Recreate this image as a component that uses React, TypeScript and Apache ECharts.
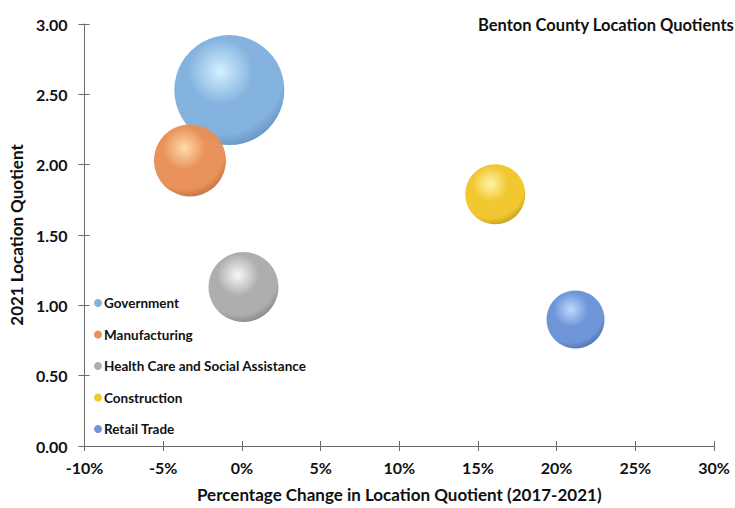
import React, { useEffect, useRef } from "react";
import * as echarts from "echarts";

const categories = [
  "Government",
  "Manufacturing",
  "Health Care and Social Assistance",
  "Construction",
  "Retail Trade",
];
// percentage change in LQ (2017-2021), in %
const pctChange = [-0.8, -3.3, 0.1, 16.1, 21.2];
// 2021 location quotient
const lq2021 = [2.53, 2.03, 1.13, 1.79, 0.9];
// relative bubble magnitude
const bubbleSize = [3025, 1296, 1225, 900, 841];

const xTicks = [-10, -5, 0, 5, 10, 15, 20, 25, 30];
const yTicks = [0, 0.5, 1, 1.5, 2, 2.5, 3];

const palette = [
  { hi: "#d2f0ff", base: "#80b0de", edge: "#5784b4" },
  { hi: "#ffd9a6", base: "#e88e55", edge: "#ae6234" },
  { hi: "#f8f8f8", base: "#ababab", edge: "#737373" },
  { hi: "#fff3a8", base: "#f0c628", edge: "#b08810" },
  { hi: "#bcd8ff", base: "#6a92d6", edge: "#3e5e9a" },
];

const FONT = "Lato, 'Noto Sans', sans-serif";
const TXT = "#111";
const AX = "#6a6a6a";

export default function App() {
  const ref = useRef<HTMLDivElement>(null);
  useEffect(() => {
    document.body.style.margin = "0";
    if (!ref.current) return;
    const chart = echarts.init(ref.current, undefined, { renderer: "svg" });
    const axisLine = { show: true, onZero: false, lineStyle: { color: AX, width: 1 } };
    const series = categories.map((name, i) => ({
      name,
      type: "scatter",
      xAxisIndex: 0,
      yAxisIndex: 0,
      data: [[pctChange[i], lq2021[i], bubbleSize[i]]],
      symbolSize: (d: number[]) => 2 * Math.sqrt(d[2]),
      itemStyle: {
        color: {
          type: "radial",
          x: 0.42,
          y: 0.33,
          r: 0.75,
          colorStops: [
            { offset: 0, color: palette[i].hi },
            { offset: 0.4, color: palette[i].base },
            { offset: 0.76, color: palette[i].base },
            { offset: 1, color: palette[i].edge },
          ],
        },
        opacity: 0.97,
      },
      emphasis: { disabled: true },
    }));
    chart.setOption({
      animation: false,
      textStyle: { fontFamily: FONT },
      title: {
        text: "Benton County Location Quotients",
        left: 473,
        top: 11,
        textStyle: { fontFamily: FONT, fontSize: 16.5, fontWeight: "bold", color: TXT },
      },
      legend: {
        orient: "vertical",
        left: 89,
        top: 291,
        icon: "circle",
        itemWidth: 8,
        itemHeight: 8,
        itemGap: 17.5,
        data: categories.map((name, i) => ({
          name,
          itemStyle: { color: palette[i].base },
        })),
        textStyle: {
          fontFamily: FONT,
          fontSize: 13.5,
          fontWeight: "bold",
          color: TXT,
          lineHeight: 14,
          padding: [0, 0, 0, -3],
        },
        selectedMode: false,
      },
      grid: { left: 81, right: 21, top: 24, bottom: 61 },
      xAxis: [
        {
          type: "value",
          min: xTicks[0],
          max: xTicks[xTicks.length - 1],
          interval: 5,
          axisLine,
          axisTick: { show: true, length: 5, lineStyle: { color: AX } },
          splitLine: { show: false },
          axisLabel: {
            formatter: "{value}%",
            fontFamily: FONT,
            fontSize: 16,
            fontWeight: "bold",
            color: TXT,
            margin: 13,
          },
          name: "Percentage Change in Location Quotient (2017-2021)",
          nameLocation: "middle",
          nameGap: 40,
          nameTextStyle: { fontFamily: FONT, fontSize: 17, fontWeight: "bold", color: TXT },
        },
        {
          type: "value",
          min: xTicks[0],
          max: xTicks[xTicks.length - 1],
          interval: 5,
          position: "bottom",
          axisLine: { show: false, onZero: false },
          axisTick: { show: true, inside: true, length: 5, lineStyle: { color: AX } },
          axisLabel: { show: false },
          splitLine: { show: false },
        },
      ],
      yAxis: [
        {
          type: "value",
          min: yTicks[0],
          max: yTicks[yTicks.length - 1],
          interval: 0.5,
          axisLine,
          axisTick: { show: true, length: 6, lineStyle: { color: AX } },
          splitLine: { show: false },
          axisLabel: {
            formatter: (v: number) => v.toFixed(2),
            fontFamily: FONT,
            fontSize: 16,
            fontWeight: "bold",
            color: TXT,
            margin: 17,
          },
          name: "2021 Location Quotient",
          nameLocation: "middle",
          nameGap: 58,
          nameTextStyle: { fontFamily: FONT, fontSize: 17, fontWeight: "bold", color: TXT },
        },
        {
          type: "value",
          min: yTicks[0],
          max: yTicks[yTicks.length - 1],
          interval: 0.5,
          position: "left",
          axisLine: { show: false, onZero: false },
          axisTick: { show: true, inside: true, length: 5, lineStyle: { color: AX } },
          axisLabel: { show: false },
          splitLine: { show: false },
        },
      ],
      series,
    });
    return () => chart.dispose();
  }, []);
  return <div ref={ref} style={{ width: 735, height: 508 }} />;
}
